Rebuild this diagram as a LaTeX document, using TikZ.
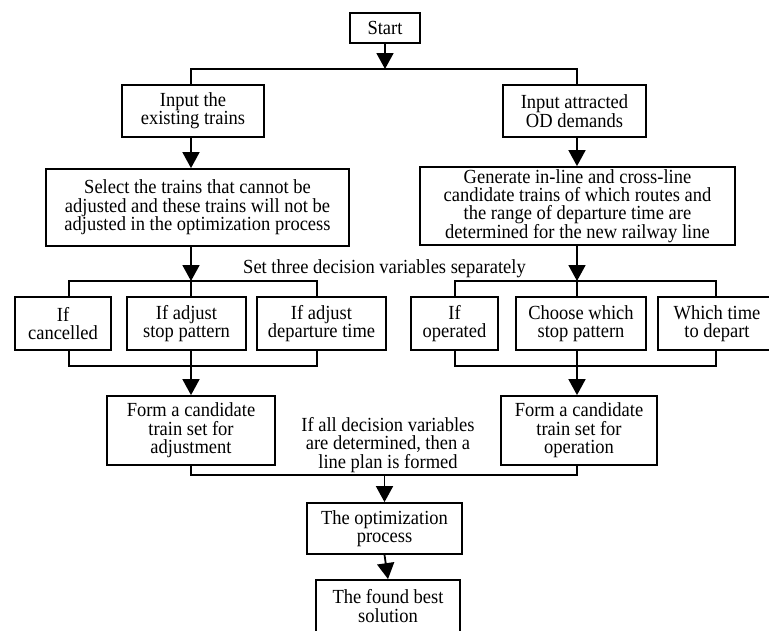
\documentclass[tikz,border=0pt]{standalone}
\usepackage{fontspec}
\setmainfont{Liberation Serif}[FakeStretch=0.925]
\usetikzlibrary{arrows.meta}
\begin{document}
\begin{tikzpicture}[x=1pt,y=-1pt,
  txt/.style={font=\fontsize{20}{18.4}\selectfont},
  box/.style={draw, line width=1.8pt, align=center, inner sep=0pt, txt},
  conn/.style={line width=1.8pt},
  arr/.style={line width=1.8pt, -{Triangle[length=16pt,width=17pt]}},
  lbl/.style={align=center, inner sep=0pt, txt}]
\useasboundingbox (0,0) rectangle (769,630);
% nodes
\node[box, minimum width=70pt, minimum height=30pt] (start) at (385,28) {Start};
\node[box, minimum width=142pt, minimum height=52pt] (in1) at (193,111) {Input the\\existing trains};
\node[box, minimum width=143pt, minimum height=52pt] (in2) at (574.5,111) {Input attracted\\OD demands};
\node[box, minimum width=303pt, minimum height=77pt] (sel) at (197.5,207.5) {Select the trains that cannot be\\adjusted and these trains will not be\\adjusted in the optimization process};
\node[box, minimum width=315pt, minimum height=78pt] (gen) at (577.5,206) {Generate in-line and cross-line\\candidate trains of which routes and\\the range of departure time are\\determined for the new railway line};
\node[lbl] (settext) at (384.5,269) {Set three decision variables separately};
\node[box, minimum width=96pt, minimum height=53pt] (c1) at (63,323.5) {If\\cancelled};
\node[box, minimum width=119pt, minimum height=53pt] (c2) at (186.5,323.5) {If adjust\\stop pattern};
\node[box, minimum width=129pt, minimum height=53pt] (c3) at (321.5,323.5) {If adjust\\departure time};
\node[box, minimum width=87pt, minimum height=53pt] (r1) at (454.5,323.5) {If\\operated};
\node[box, minimum width=130pt, minimum height=53pt] (r2) at (581,323.5) {Choose which\\stop pattern};
\node[box, minimum width=118pt, minimum height=53pt] (r3) at (717,323.5) {Which time\\to depart};
\node[box, minimum width=168pt, minimum height=69pt] (f1) at (191,430.5) {Form a candidate\\train set for\\adjustment};
\node[box, minimum width=156pt, minimum height=69pt] (f2) at (579,430.5) {Form a candidate\\train set for\\operation};
\node[lbl] (alltext) at (388,445) {If all decision variables\\are determined, then a\\line plan is formed};
\node[box, minimum width=155pt, minimum height=51pt] (opt) at (384.5,528.5) {The optimization\\process};
\node[box, minimum width=144pt, minimum height=52pt] (best) at (388,606) {The found best\\solution};
% helper coordinates
\coordinate (yT) at (385,69);
\coordinate (yB1) at (385,281);
\coordinate (yB2) at (385,366);
\coordinate (yB3) at (385,475);
\coordinate (xL) at (191,0);
\coordinate (xR) at (577,0);
\coordinate (xL1) at (69,0);
\coordinate (xL3) at (317,0);
\coordinate (xR1) at (455,0);
\coordinate (xR3) at (716,0);
% connectors
\draw[arr] (start.south) -- (start.south |- yT);
\draw[conn] (in1.north -| xL) -- (xL |- yT) -- (xR |- yT) -- (in2.north -| xR);
\draw[arr] (in1.south -| xL) -- (sel.north -| xL);
\draw[arr] (in2.south -| xR) -- (gen.north -| xR);
\draw[arr] (sel.south -| xL) -- (xL |- yB1);
\draw[arr] (gen.south -| xR) -- (xR |- yB1);
\draw[conn] (c1.north -| xL1) -- (xL1 |- yB1) -- (xL3 |- yB1) -- (c3.north -| xL3);
\draw[conn] (c2.north -| xL) -- (xL |- yB1);
\draw[conn] (r1.north -| xR1) -- (xR1 |- yB1) -- (xR3 |- yB1) -- (r3.north -| xR3);
\draw[conn] (r2.north -| xR) -- (xR |- yB1);
\draw[conn] (c1.south -| xL1) -- (xL1 |- yB2) -- (xL3 |- yB2) -- (c3.south -| xL3);
\draw[conn] (r1.south -| xR1) -- (xR1 |- yB2) -- (xR3 |- yB2) -- (r3.south -| xR3);
\draw[arr] (c2.south -| xL) -- (f1.north -| xL);
\draw[arr] (r2.south -| xR) -- (f2.north -| xR);
\draw[conn] (f1.south -| xL) -- (xL |- yB3) -- (xR |- yB3) -- (f2.south -| xR);
\draw[arr] (opt.north |- yB3) -- (opt.north);
\draw[arr] (opt.south) -- (best.north);
\end{tikzpicture}
\end{document}
